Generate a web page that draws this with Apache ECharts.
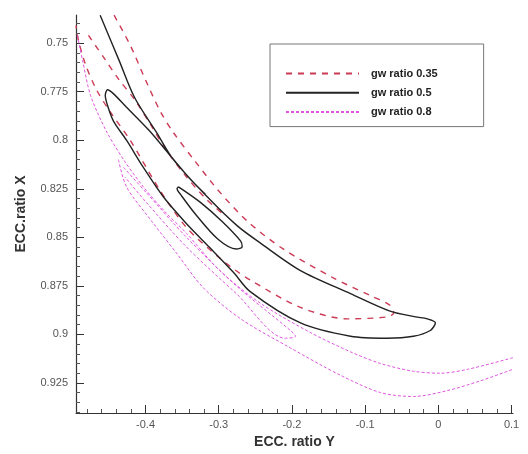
<!DOCTYPE html>
<html>
<head>
<meta charset="utf-8">
<script src="https://cdn.jsdelivr.net/npm/echarts@6/dist/echarts.min.js"></script>
<style>
  html, body { margin: 0; padding: 0; background: #fff; }
  #chart { width: 528px; height: 454px; }
</style>
</head>
<body>
<div id="chart"></div>
<script>
// Contour lines of the eccentricity ratios, one group per gw ratio.
// Every point is [ECC. ratio Y, ECC.ratio X].

// gw ratio 0.35
const gw035Loop = [
  [-0.443, 0.7356], [-0.421, 0.751], [-0.400, 0.769], [-0.380, 0.785], [-0.362, 0.796],
  [-0.332, 0.811], [-0.298, 0.827], [-0.260, 0.842], [-0.212, 0.856], [-0.143, 0.871],
  [-0.093, 0.880], [-0.066, 0.885], [-0.061, 0.889], [-0.070, 0.891], [-0.124, 0.892],
  [-0.189, 0.886], [-0.257, 0.872], [-0.277, 0.867], [-0.301, 0.860], [-0.344, 0.845],
  [-0.380, 0.826], [-0.421, 0.800], [-0.449, 0.785], [-0.467, 0.774], [-0.482, 0.761],
  [-0.492, 0.748], [-0.495, 0.741]
];
const gw035Inner = [
  [-0.478, 0.746], [-0.456, 0.758], [-0.436, 0.769], [-0.415, 0.779], [-0.393, 0.792],
  [-0.372, 0.805], [-0.346, 0.818], [-0.318, 0.830], [-0.291, 0.839]
];

// gw ratio 0.5
const gw05Loop = [
  [-0.462, 0.7356], [-0.436, 0.759], [-0.415, 0.778], [-0.385, 0.796], [-0.362, 0.810],
  [-0.316, 0.829], [-0.275, 0.844], [-0.243, 0.853], [-0.189, 0.867], [-0.120, 0.879],
  [-0.066, 0.888], [-0.031, 0.891], [-0.015, 0.892], [-0.004, 0.894], [-0.011, 0.898],
  [-0.034, 0.901], [-0.070, 0.902], [-0.120, 0.901], [-0.189, 0.894], [-0.257, 0.878],
  [-0.280, 0.868], [-0.313, 0.855], [-0.344, 0.843], [-0.376, 0.829], [-0.403, 0.814],
  [-0.426, 0.800], [-0.444, 0.790], [-0.452, 0.782], [-0.455, 0.777], [-0.452, 0.774],
  [-0.444, 0.776], [-0.426, 0.783], [-0.395, 0.795], [-0.366, 0.808], [-0.339, 0.820],
  [-0.318, 0.828]
];
const gw05Island = [
  [-0.355, 0.824], [-0.325, 0.832], [-0.295, 0.842], [-0.270, 0.852], [-0.268, 0.855],
  [-0.276, 0.856], [-0.301, 0.851], [-0.332, 0.838], [-0.352, 0.828], [-0.357, 0.825],
  [-0.355, 0.824]
];

// gw ratio 0.8
const gw08Upper = [
  [-0.493, 0.746], [-0.486, 0.759], [-0.475, 0.777], [-0.454, 0.795], [-0.430, 0.810],
  [-0.403, 0.824], [-0.373, 0.837], [-0.344, 0.848], [-0.299, 0.867], [-0.243, 0.884],
  [-0.175, 0.899], [-0.120, 0.909], [-0.079, 0.915], [-0.034, 0.919], [0.003, 0.920],
  [0.040, 0.918], [0.102, 0.912]
];
const gw08Lower = [
  [-0.437, 0.810], [-0.426, 0.824], [-0.393, 0.841], [-0.358, 0.858], [-0.321, 0.876],
  [-0.270, 0.892], [-0.202, 0.907], [-0.134, 0.921], [-0.079, 0.930], [-0.034, 0.932],
  [0.012, 0.929], [0.057, 0.924], [0.102, 0.918]
];
const gw08Band = [
  [-0.430, 0.814], [-0.399, 0.827], [-0.344, 0.850], [-0.276, 0.875], [-0.202, 0.898],
  [-0.195, 0.901], [-0.209, 0.902], [-0.276, 0.879], [-0.344, 0.855], [-0.399, 0.832],
  [-0.428, 0.819]
];

const seriesNames = ['gw ratio 0.35', 'gw ratio 0.5', 'gw ratio 0.8'];

// Axis extents and tick positions
const xRange = [-0.495, 0.102];
const yRange = [0.7355, 0.9405];
const xMajorTicks = [-0.4, -0.3, -0.2, -0.1, 0, 0.1];
const yMajorTicks = [0.75, 0.775, 0.8, 0.825, 0.85, 0.875, 0.9, 0.925];
const xMinorTicks = [-0.48, -0.46, -0.44, -0.42, -0.38, -0.36, -0.34, -0.32, -0.28, -0.26, -0.24, -0.22,
  -0.18, -0.16, -0.14, -0.12, -0.08, -0.06, -0.04, -0.02, 0.02, 0.04, 0.06, 0.08];
const yMinorTicks = [0.74, 0.745, 0.755, 0.76, 0.765, 0.77, 0.78, 0.785, 0.79, 0.795, 0.805, 0.81, 0.815, 0.82,
  0.83, 0.835, 0.84, 0.845, 0.855, 0.86, 0.865, 0.87, 0.88, 0.885, 0.89, 0.895, 0.905, 0.91, 0.915, 0.92,
  0.93, 0.935, 0.94];

const styles = {
  'gw ratio 0.35': { color: '#cc3a55', width: 1.4, type: [6, 6] },
  'gw ratio 0.5': { color: '#222222', width: 1.4, type: 'solid' },
  'gw ratio 0.8': { color: '#e055e0', width: 1, type: [3, 2] }
};

function lineSeries(name, data) {
  const s = styles[name];
  return {
    name: name,
    type: 'line',
    data: data,
    showSymbol: false,
    symbol: 'none',
    smooth: 0.3,
    clip: true,
    animation: false,
    color: s.color,
    lineStyle: { color: s.color, width: s.width, type: s.type }
  };
}

const axisFont = { fontFamily: 'Liberation Sans, Arial, sans-serif', fontSize: 11, color: '#555' };
const titleFont = { fontFamily: 'Liberation Sans, Arial, sans-serif', fontSize: 14, fontWeight: 'bold', color: '#333' };

const chart = echarts.init(document.getElementById('chart'), null, { renderer: 'canvas' });
chart.setOption({
  backgroundColor: '#fff',
  animation: false,
  grid: { left: 76, right: 15, top: 15, bottom: 41, containLabel: false },
  legend: {
    data: seriesNames,
    orient: 'vertical',
    left: 270,
    top: 44,
    itemWidth: 73,
    itemHeight: 14,
    itemGap: 8,
    padding: [24, 46, 9, 15],
    borderColor: '#777',
    borderWidth: 1,
    backgroundColor: '#fff',
    selectedMode: false,
    itemStyle: { opacity: 0 },
    textStyle: { fontFamily: 'Liberation Sans, Arial, sans-serif', fontSize: 11, fontWeight: 'bold', color: '#222', padding: [0, 0, 0, 7] }
  },
  xAxis: [
    {
      type: 'value', min: xRange[0], max: xRange[1],
      name: 'ECC. ratio Y', nameLocation: 'middle', nameGap: 22, nameTextStyle: titleFont,
      axisLine: { show: true, onZero: false, lineStyle: { color: '#333', width: 1.2 } },
      axisTick: { show: true, inside: true, length: 8, customValues: xMajorTicks, lineStyle: { color: '#333' } },
      axisLabel: { show: true, customValues: xMajorTicks, margin: 6, ...axisFont },
      splitLine: { show: false }
    },
    {
      type: 'value', min: xRange[0], max: xRange[1], position: 'bottom',
      axisLine: { show: false, onZero: false },
      axisTick: { show: true, inside: true, length: 4, customValues: xMinorTicks, lineStyle: { color: '#555' } },
      axisLabel: { show: false },
      splitLine: { show: false }
    }
  ],
  yAxis: [
    {
      type: 'value', inverse: true, min: yRange[0], max: yRange[1],
      name: 'ECC.ratio X', nameLocation: 'middle', nameGap: 48, nameTextStyle: titleFont,
      axisLine: { show: true, onZero: false, lineStyle: { color: '#333', width: 1.2 } },
      axisTick: { show: true, inside: true, length: 8, customValues: yMajorTicks, lineStyle: { color: '#333' } },
      axisLabel: { show: true, customValues: yMajorTicks, margin: 8, ...axisFont },
      splitLine: { show: false }
    },
    {
      type: 'value', inverse: true, min: yRange[0], max: yRange[1], position: 'left',
      axisLine: { show: false, onZero: false },
      axisTick: { show: true, inside: true, length: 4, customValues: yMinorTicks, lineStyle: { color: '#555' } },
      axisLabel: { show: false },
      splitLine: { show: false }
    }
  ],
  series: [
    lineSeries('gw ratio 0.35', gw035Loop),
    lineSeries('gw ratio 0.35', gw035Inner),
    lineSeries('gw ratio 0.5', gw05Loop),
    lineSeries('gw ratio 0.5', gw05Island),
    lineSeries('gw ratio 0.8', gw08Upper),
    lineSeries('gw ratio 0.8', gw08Lower),
    lineSeries('gw ratio 0.8', gw08Band)
  ]
});
</script>
</body>
</html>
